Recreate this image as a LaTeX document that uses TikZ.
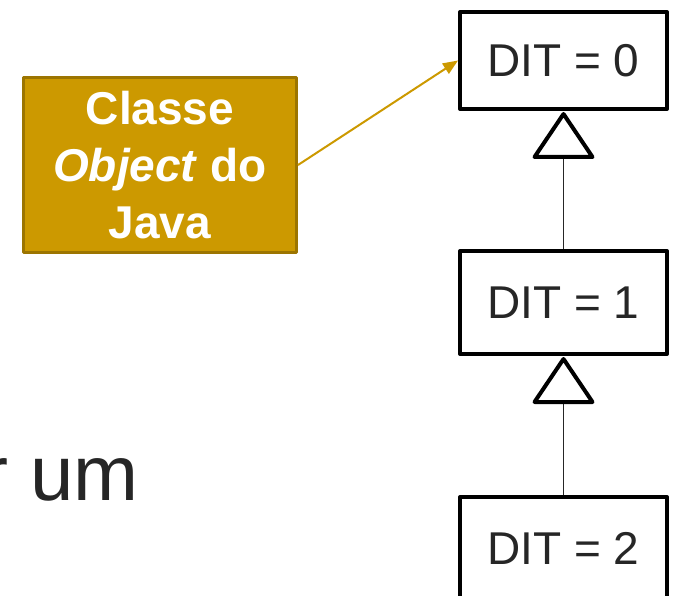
\documentclass[tikz,border=0pt]{standalone}
\usepackage{fontspec}
\setmainfont{Liberation Sans}
\usetikzlibrary{arrows.meta,calc}
\definecolor{gold}{HTML}{CC9900}
\definecolor{goldedge}{HTML}{9C7500}
\definecolor{ink}{HTML}{262626}
\tikzset{
  ditbox/.style={draw=black, line width=4pt, fill=white, line join=round,
    minimum width=207pt, minimum height=97pt, inner sep=0pt,
    text=ink, font=\fontsize{46}{46}\selectfont},
  callout/.style={draw=goldedge, fill=gold, line width=3pt, line join=round,
    minimum width=273pt, minimum height=175pt, inner sep=0pt,
    text=white, align=center, font=\bfseries\fontsize{46}{57}\selectfont},
  pointer/.style={draw=gold, line width=2pt, -{Triangle[length=15pt,width=12pt]}},
  hollowtri/.style={draw=black, line width=4pt, fill=white, line join=round},
  stem/.style={draw=ink, line width=1.5pt},
}
\begin{document}
\begin{tikzpicture}[x=1pt,y=-1pt]
\useasboundingbox (0,0) rectangle (675,596);
\clip (0,0) rectangle (675,596);

% fragment of the slide text running in from the left
\node[anchor=base east, inner sep=0pt, text=ink,
  font=\fontsize{78}{78}\selectfont] (frag) at (139,500) {r um};

% class hierarchy boxes
\node[ditbox] (b0) at (563.5,60.5) {DIT = 0};
\node[ditbox, minimum height=103pt] (b1) at (563.5,302.5) {DIT = 1};
\node[ditbox, minimum height=102pt] (b2) at (563.5,548) {DIT = 2};

% generalisation triangles and their stems
\coordinate (t0) at ($(b0.south)+(0,46)$);
\coordinate (t1) at ($(b1.south)+(0,46)$);
\draw[stem] (b1.north) -- (t0);
\draw[stem] (b2.north) -- (t1);
\draw[hollowtri] ($(b0.south)+(0,3)$) -- ($(t0)+(-29,0)$) -- ($(t0)+(29,0)$) -- cycle;
\draw[hollowtri] ($(b1.south)+(0,3)$) -- ($(t1)+(-29,0)$) -- ($(t1)+(29,0)$) -- cycle;

% callout naming the root class
\node[callout] (c) at (160,165) {Classe\\\textit{Object} do\\Java};
\draw[pointer] (c.east) -- (b0.west);
\end{tikzpicture}
\end{document}
